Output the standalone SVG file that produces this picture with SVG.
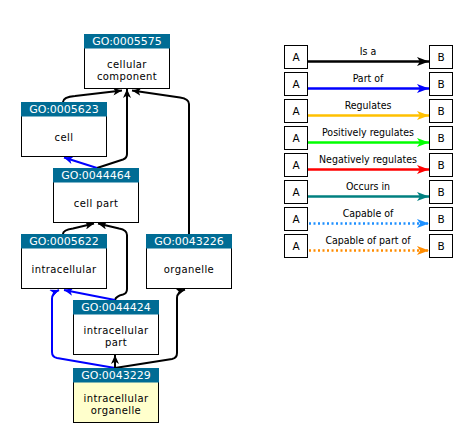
<svg xmlns="http://www.w3.org/2000/svg" width="465" height="424" viewBox="0 0 465 424">
  <style>
    .box { fill: #ffffff; stroke: #000000; stroke-width: 1; }
    .term .box.sel { fill: #ffffcc; }
    .hdr { fill: #006c94; }
    .id { font-family: "DejaVu Sans", sans-serif; font-size: 11px; fill: #ffffff; text-anchor: middle; }
    .lbl { font-family: "DejaVu Sans", sans-serif; font-size: 10px; letter-spacing: 0.4px; fill: #000000; text-anchor: middle; }
    .edge { fill: none; stroke-width: 2; stroke-linejoin: round; }
    .isa { stroke: #000000; }
    .partof { stroke: #0000ff; }
    .key { fill: #ffffff; stroke: #000000; stroke-width: 1; }
    .keyletter { font-family: "DejaVu Sans", sans-serif; font-size: 10.5px; fill: #000000; text-anchor: middle; }
    .keytext { font-family: "DejaVu Sans Condensed", "DejaVu Sans", sans-serif; font-size: 10.5px; fill: #000000; text-anchor: middle; }
    .rel { fill: none; stroke-width: 2.5; }
    .dots { stroke-dasharray: 2 2.5; stroke-width: 2.5; }
  </style>
  <defs>
    <marker id="ah-black" markerUnits="userSpaceOnUse" markerWidth="10" markerHeight="8" refX="9" refY="4" orient="auto">
      <path d="M0,0 L9,4 L0,8 L2.5,4 z" fill="#000000"/>
    </marker>
    <marker id="ah-blue" markerUnits="userSpaceOnUse" markerWidth="10" markerHeight="8" refX="9" refY="4" orient="auto">
      <path d="M0,0 L9,4 L0,8 L2.5,4 z" fill="#0000ff"/>
    </marker>
    <marker id="k-black" markerUnits="userSpaceOnUse" markerWidth="13" markerHeight="9" refX="12" refY="4.5" orient="auto">
      <path d="M0,0 L12,4.5 L0,9 L3,4.5 z" fill="#000000"/>
    </marker>
    <marker id="k-blue" markerUnits="userSpaceOnUse" markerWidth="13" markerHeight="9" refX="12" refY="4.5" orient="auto">
      <path d="M0,0 L12,4.5 L0,9 L3,4.5 z" fill="#0000ff"/>
    </marker>
    <marker id="k-yellow" markerUnits="userSpaceOnUse" markerWidth="13" markerHeight="9" refX="12" refY="4.5" orient="auto">
      <path d="M0,0 L12,4.5 L0,9 L3,4.5 z" fill="#ffc000"/>
    </marker>
    <marker id="k-green" markerUnits="userSpaceOnUse" markerWidth="13" markerHeight="9" refX="12" refY="4.5" orient="auto">
      <path d="M0,0 L12,4.5 L0,9 L3,4.5 z" fill="#00ff00"/>
    </marker>
    <marker id="k-red" markerUnits="userSpaceOnUse" markerWidth="13" markerHeight="9" refX="12" refY="4.5" orient="auto">
      <path d="M0,0 L12,4.5 L0,9 L3,4.5 z" fill="#ff0000"/>
    </marker>
    <marker id="k-teal" markerUnits="userSpaceOnUse" markerWidth="13" markerHeight="9" refX="12" refY="4.5" orient="auto">
      <path d="M0,0 L12,4.5 L0,9 L3,4.5 z" fill="#008080"/>
    </marker>
    <marker id="k-sky" markerUnits="userSpaceOnUse" markerWidth="13" markerHeight="9" refX="12" refY="4.5" orient="auto">
      <path d="M0,0 L12,4.5 L0,9 L3,4.5 z" fill="#1e90ff"/>
    </marker>
    <marker id="k-orange" markerUnits="userSpaceOnUse" markerWidth="13" markerHeight="9" refX="12" refY="4.5" orient="auto">
      <path d="M0,0 L12,4.5 L0,9 L3,4.5 z" fill="#ff8c00"/>
    </marker>
  </defs>

  <!-- ontology edges -->
  <g id="connectors">
    <path class="edge isa" d="M63,102 Q63,97 75,96 L122,90.5" marker-end="url(#ah-black)"/>
    <path class="edge isa" d="M97,168 L123,159.5 Q127,158 127,154 L127,89" marker-end="url(#ah-black)"/>
    <path class="edge isa" d="M189,234 L189,104 Q189,99 180,97.5 L132,90.5" marker-end="url(#ah-black)"/>
    <path class="edge partof" d="M97,168 L64,157.5" marker-end="url(#ah-blue)"/>
    <path class="edge isa" d="M63,234 Q63,230 73,228.5 L94,223.5" marker-end="url(#ah-black)"/>
    <path class="edge isa" d="M115,300 Q116,296 123,294.5 Q127,293.5 127,289 L127,235 Q127,230 119,228.5 L98,223.5" marker-end="url(#ah-black)"/>
    <path class="edge partof" d="M115,300 L64,290" marker-end="url(#ah-blue)"/>
    <path class="edge partof" d="M115,368 L57,358 Q52,357 52,352 L52,299 Q52,293 59,290" marker-end="url(#ah-blue)"/>
    <path class="edge isa" d="M115,368 L115,355" marker-end="url(#ah-black)"/>
    <path class="edge isa" d="M115,368 L172,359 Q177,358 177,353 L177,298 Q177,292 185,289.5" marker-end="url(#ah-black)"/>
  </g>

  <!-- ontology terms -->
  <g id="GO_0005575" class="term">
    <rect class="box" x="84.5" y="34.5" width="85" height="54"/>
    <rect class="hdr" x="84" y="34" width="86" height="14.5"/>
    <text class="id" x="127" y="45">GO:0005575</text>
    <text class="lbl" x="127" y="67.5">cellular</text>
    <text class="lbl" x="127" y="79.5">component</text>
  </g>
  <g id="GO_0005623" class="term">
    <rect class="box" x="21.5" y="102.5" width="85" height="54"/>
    <rect class="hdr" x="21" y="102" width="86" height="14.5"/>
    <text class="id" x="64" y="113">GO:0005623</text>
    <text class="lbl" x="64" y="141">cell</text>
  </g>
  <g id="GO_0044464" class="term">
    <rect class="box" x="53.5" y="168.5" width="85" height="54"/>
    <rect class="hdr" x="53" y="168" width="86" height="14.5"/>
    <text class="id" x="96" y="179">GO:0044464</text>
    <text class="lbl" x="96" y="207">cell part</text>
  </g>
  <g id="GO_0005622" class="term">
    <rect class="box" x="21.5" y="234.5" width="85" height="54"/>
    <rect class="hdr" x="21" y="234" width="86" height="14.5"/>
    <text class="id" x="64" y="245">GO:0005622</text>
    <text class="lbl" x="64" y="273">intracellular</text>
  </g>
  <g id="GO_0043226" class="term">
    <rect class="box" x="146.5" y="234.5" width="85" height="54"/>
    <rect class="hdr" x="146" y="234" width="86" height="14.5"/>
    <text class="id" x="189" y="245">GO:0043226</text>
    <text class="lbl" x="189" y="273">organelle</text>
  </g>
  <g id="GO_0044424" class="term">
    <rect class="box" x="73.5" y="300.5" width="85" height="54"/>
    <rect class="hdr" x="73" y="300" width="86" height="14.5"/>
    <text class="id" x="116" y="311">GO:0044424</text>
    <text class="lbl" x="116" y="333.5">intracellular</text>
    <text class="lbl" x="116" y="345.5">part</text>
  </g>
  <g id="GO_0043229" class="term">
    <rect class="box sel" x="73.5" y="368.5" width="85" height="54"/>
    <rect class="hdr" x="73" y="368" width="86" height="14.5"/>
    <text class="id" x="116" y="379">GO:0043229</text>
    <text class="lbl" x="116" y="401.5">intracellular</text>
    <text class="lbl" x="116" y="413.5">organelle</text>
  </g>

  <!-- relationship key -->
  <g id="key">
    <g id="key-isa">
      <rect class="key" x="284.5" y="45.5" width="23" height="23"/>
      <rect class="key" x="429.5" y="45.5" width="23" height="23"/>
      <text class="keyletter" x="296" y="61">A</text>
      <text class="keyletter" x="441" y="61">B</text>
      <text class="keytext" x="368" y="54.5">Is a</text>
      <line class="rel" x1="308" y1="61.5" x2="429" y2="61.5" stroke="#000000" marker-end="url(#k-black)"/>
    </g>
    <g id="key-partof">
      <rect class="key" x="284.5" y="72.5" width="23" height="23"/>
      <rect class="key" x="429.5" y="72.5" width="23" height="23"/>
      <text class="keyletter" x="296" y="88">A</text>
      <text class="keyletter" x="441" y="88">B</text>
      <text class="keytext" x="368" y="81.5">Part of</text>
      <line class="rel" x1="308" y1="88.5" x2="429" y2="88.5" stroke="#0000ff" marker-end="url(#k-blue)"/>
    </g>
    <g id="key-regulates">
      <rect class="key" x="284.5" y="99.5" width="23" height="23"/>
      <rect class="key" x="429.5" y="99.5" width="23" height="23"/>
      <text class="keyletter" x="296" y="115">A</text>
      <text class="keyletter" x="441" y="115">B</text>
      <text class="keytext" x="368" y="108.5">Regulates</text>
      <line class="rel" x1="308" y1="115.5" x2="429" y2="115.5" stroke="#ffc000" marker-end="url(#k-yellow)"/>
    </g>
    <g id="key-posreg">
      <rect class="key" x="284.5" y="126.5" width="23" height="23"/>
      <rect class="key" x="429.5" y="126.5" width="23" height="23"/>
      <text class="keyletter" x="296" y="142">A</text>
      <text class="keyletter" x="441" y="142">B</text>
      <text class="keytext" x="368" y="135.5">Positively regulates</text>
      <line class="rel" x1="308" y1="142.5" x2="429" y2="142.5" stroke="#00ff00" marker-end="url(#k-green)"/>
    </g>
    <g id="key-negreg">
      <rect class="key" x="284.5" y="153.5" width="23" height="23"/>
      <rect class="key" x="429.5" y="153.5" width="23" height="23"/>
      <text class="keyletter" x="296" y="169">A</text>
      <text class="keyletter" x="441" y="169">B</text>
      <text class="keytext" x="368" y="162.5">Negatively regulates</text>
      <line class="rel" x1="308" y1="169.5" x2="429" y2="169.5" stroke="#ff0000" marker-end="url(#k-red)"/>
    </g>
    <g id="key-occursin">
      <rect class="key" x="284.5" y="180.5" width="23" height="23"/>
      <rect class="key" x="429.5" y="180.5" width="23" height="23"/>
      <text class="keyletter" x="296" y="196">A</text>
      <text class="keyletter" x="441" y="196">B</text>
      <text class="keytext" x="368" y="189.5">Occurs in</text>
      <line class="rel" x1="308" y1="196.5" x2="429" y2="196.5" stroke="#008080" marker-end="url(#k-teal)"/>
    </g>
    <g id="key-capable">
      <rect class="key" x="284.5" y="207.5" width="23" height="23"/>
      <rect class="key" x="429.5" y="207.5" width="23" height="23"/>
      <text class="keyletter" x="296" y="223">A</text>
      <text class="keyletter" x="441" y="223">B</text>
      <text class="keytext" x="368" y="216.5">Capable of</text>
      <line class="rel dots" x1="309" y1="223.5" x2="429" y2="223.5" stroke="#1e90ff" marker-end="url(#k-sky)"/>
    </g>
    <g id="key-capablepart">
      <rect class="key" x="284.5" y="234.5" width="23" height="23"/>
      <rect class="key" x="429.5" y="234.5" width="23" height="23"/>
      <text class="keyletter" x="296" y="250">A</text>
      <text class="keyletter" x="441" y="250">B</text>
      <text class="keytext" x="368" y="243.5">Capable of part of</text>
      <line class="rel dots" x1="309" y1="250.5" x2="429" y2="250.5" stroke="#ff8c00" marker-end="url(#k-orange)"/>
    </g>
  </g>
</svg>
